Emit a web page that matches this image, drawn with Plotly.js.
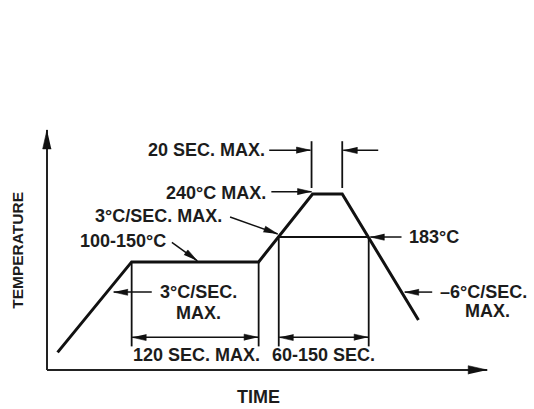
<!DOCTYPE html>
<html>
<head>
<meta charset="utf-8">
<script src="https://cdn.plot.ly/plotly-3.0.1.min.js"></script>
<style>
  html, body { margin: 0; padding: 0; background: #fff; }
  #chart { width: 534px; height: 409px; }
</style>
</head>
<body>
<div id="chart"></div>
<script>
// Reflow soldering profile: time (schematic seconds) against temperature (°C)
const profileTime = [10, 80, 200, 251, 279, 351];
const profileTemp = [30, 150, 150, 240, 240, 73];

// Solder liquidus level and the times where the profile crosses it
const liquidusTemp = 183;
const liquidusTime = [219, 304];

// Soak window (120 s max) and time above liquidus (60-150 s)
const soakTime = [80, 200];

// Edges of the time spent at peak (20 s max)
const peakTime = [250, 279];

// Text labels
const labels = {
  peakDwell: '20 SEC. MAX.',
  peakTemp: '240°C MAX.',
  rampUp: '3°C/SEC. MAX.',
  soak: '100-150°C',
  liquidus: '183°C',
  preheat: ['3°C/SEC.', 'MAX.'],
  cooling: ['–6°C/SEC.', 'MAX.'],
  soakDur: '120 SEC. MAX.',
  liquidusDur: '60-150 SEC.',
  xTitle: 'TIME',
  yTitle: 'TEMPERATURE'
};

const W = 534, H = 409;
const xRange = [-44.4, 460.2];
const yRange = [-45, 497.2];
const sx = W / (xRange[1] - xRange[0]);
const sy = H / (yRange[1] - yRange[0]);

const INK = '#111';
const TXT = '#1c1c1c';
const FONT = { family: 'Liberation Sans, Arial, Helvetica, sans-serif', size: 18, color: TXT, weight: 'bold' };

// Filled, elongated arrowhead with its tip on `tip`, pointing away from `tail`
function arrowHead(tail, tip, len, half) {
  const dx = (tip[0] - tail[0]) * sx, dy = (tip[1] - tail[1]) * sy;
  const d = Math.hypot(dx, dy), ux = dx / d, uy = dy / d;
  const bx = -ux * len, by = -uy * len;
  return [
    tip,
    [tip[0] + (bx - uy * half) / sx, tip[1] + (by + ux * half) / sy],
    [tip[0] + (bx + uy * half) / sx, tip[1] + (by - ux * half) / sy]
  ];
}

function join(segments) {
  const x = [], y = [];
  segments.forEach(seg => { seg.forEach(p => { x.push(p[0]); y.push(p[1]); }); x.push(null); y.push(null); });
  return { x, y };
}

// Callout arrows: [tail, tip]
const dimTemp = 50, extBottom = 38, peakGuide = [248, 310];
const peakArrowTemp = 298;
const callouts = [
  [[210, peakArrowTemp], [peakTime[0] - 1, peakArrowTemp]],
  [[313, peakArrowTemp], [peakTime[1] + 1, peakArrowTemp]],
  [[212, 243], [profileTime[3] - 1, 243]],
  [[173, 209.5], [liquidusTime[0] - 1, 187]],
  [[118, 176], [142, 151.5]],
  [[335, liquidusTemp], [liquidusTime[1] + 1.5, liquidusTemp]],
  [[99, 110], [63, 110]],
  [[364, 110], [338, 110]]
];
// Double-headed dimension arrows
const dims = [
  [[soakTime[0] + 0.5, dimTemp], [soakTime[1] - 0.5, dimTemp]],
  [[liquidusTime[0] + 0.5, dimTemp], [liquidusTime[1] - 0.5, dimTemp]]
];
// Axes with arrow tips
const axisOrigin = [0, 6.7];
const axes = [
  [axisOrigin, [0, 325]],
  [axisOrigin, [416, 6.7]]
];

const guideSegs = [
  [[liquidusTime[0], liquidusTemp], [liquidusTime[1], liquidusTemp]],
  [[soakTime[0], profileTemp[1]], [soakTime[0], extBottom]],
  [[soakTime[1], profileTemp[2]], [soakTime[1], extBottom]],
  [[liquidusTime[0], liquidusTemp], [liquidusTime[0], extBottom]],
  [[liquidusTime[1], liquidusTemp], [liquidusTime[1], extBottom]],
  [[peakTime[0], peakGuide[0]], [peakTime[0], peakGuide[1]]],
  [[peakTime[1], peakGuide[0]], [peakTime[1], peakGuide[1]]]
];

const shaftSegs = callouts.concat(dims);
const smallHeads = [];
callouts.forEach(([a, b]) => smallHeads.push(arrowHead(a, b, 14, 3.2)));
dims.forEach(([a, b]) => { smallHeads.push(arrowHead(a, b, 14, 3.2)); smallHeads.push(arrowHead(b, a, 14, 3.2)); });
const axisHeads = axes.map(([a, b]) => arrowHead(a, b, 19, 4.3));

const guides = join(guideSegs);
const shafts = join(shaftSegs);
const axisLines = join(axes);
const heads = join(smallHeads.concat(axisHeads));

const traces = [
  { x: guides.x, y: guides.y, mode: 'lines', line: { color: INK, width: 1.8 }, hoverinfo: 'skip' },
  { x: shafts.x, y: shafts.y, mode: 'lines', line: { color: INK, width: 1.5 }, hoverinfo: 'skip' },
  { x: axisLines.x, y: axisLines.y, mode: 'lines', line: { color: '#222', width: 2 }, hoverinfo: 'skip' },
  { x: heads.x, y: heads.y, mode: 'lines', fill: 'toself', fillcolor: INK, line: { color: INK, width: 0.6 }, hoverinfo: 'skip' },
  { x: profileTime, y: profileTemp, mode: 'lines', line: { color: INK, width: 3 }, hoverinfo: 'skip' }
];

function txt(text, x, y, anchor, extra) {
  return Object.assign({ text, x, y, xref: 'x', yref: 'y', showarrow: false, xanchor: anchor || 'center', yanchor: 'middle', font: FONT }, extra || {});
}

const annotations = [
  txt(labels.peakDwell, 208, peakArrowTemp, 'right'),
  txt(labels.peakTemp, 208.5, 241.5, 'right'),
  txt(labels.rampUp, 167, 211, 'right'),
  txt(labels.soak, 114, 177.5, 'right'),
  txt(labels.liquidus, 340.5, liquidusTemp, 'left'),
  txt(labels.preheat[0], 142.7, 110),
  txt(labels.preheat[1], 142.7, 82.5),
  txt(labels.cooling[0], 412.5, 109.5),
  txt(labels.cooling[1], 416.5, 85),
  txt(labels.soakDur, 141.7, 26.6),
  txt(labels.liquidusDur, 261.7, 26.6),
  txt(labels.xTitle, 199.4, -29),
  txt(labels.yTitle, -27.4, 166, 'center', { textangle: -90, font: Object.assign({}, FONT, { size: 15.5 }) })
];

const layout = {
  width: W, height: H,
  margin: { l: 0, r: 0, t: 0, b: 0, pad: 0 },
  paper_bgcolor: '#fff', plot_bgcolor: '#fff',
  showlegend: false,
  xaxis: { range: xRange, visible: false, fixedrange: true },
  yaxis: { range: yRange, visible: false, fixedrange: true },
  annotations
};

Plotly.newPlot('chart', traces, layout, { staticPlot: true, displayModeBar: false });
</script>
</body>
</html>
